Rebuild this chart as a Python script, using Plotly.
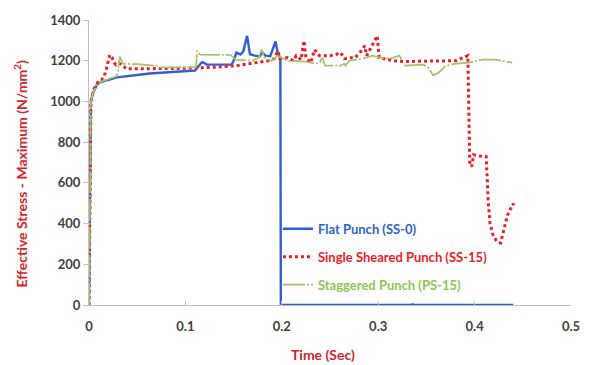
import plotly.graph_objects as go

# ---- data ----
t_flat = [0, 0.001, 0.002, 0.004, 0.006, 0.008, 0.011, 0.016, 0.022, 0.029, 0.04, 0.063, 0.09, 0.11,
          0.114, 0.117, 0.119, 0.122, 0.125, 0.148, 0.150, 0.153, 0.157, 0.160, 0.164, 0.167, 0.172,
          0.177, 0.180, 0.183, 0.188, 0.1935, 0.196, 0.1985, 0.199, 0.335, 0.3355, 0.336, 0.44]
s_flat = [0, 500, 1000, 1040, 1065, 1080, 1094, 1102, 1108, 1118, 1125, 1137, 1146, 1152,
          1175, 1192, 1190, 1181, 1181, 1181, 1200, 1240, 1230, 1245, 1322, 1232, 1225,
          1222, 1240, 1225, 1222, 1295, 1232, 1215, 0, 0, 6, 0, 0]

t_ss = [0, 0.001, 0.002, 0.005, 0.009, 0.013, 0.017, 0.0215, 0.024, 0.026, 0.028, 0.031, 0.034, 0.039,
        0.06, 0.09, 0.11, 0.13, 0.152, 0.165, 0.176, 0.186, 0.192, 0.196, 0.198, 0.206, 0.212, 0.215,
        0.22, 0.223, 0.225, 0.23, 0.234, 0.239, 0.25, 0.256, 0.261, 0.265, 0.271, 0.276, 0.281, 0.286,
        0.288, 0.295, 0.299, 0.301, 0.309, 0.316, 0.326, 0.381, 0.393, 0.395, 0.397, 0.399, 0.405,
        0.412, 0.414, 0.416, 0.419, 0.423, 0.427, 0.431, 0.434, 0.437, 0.44, 0.441]
s_ss = [0, 500, 1000, 1060, 1094, 1105, 1140, 1228, 1215, 1190, 1180, 1188, 1180, 1160,
        1160, 1162, 1165, 1168, 1175, 1185, 1195, 1200, 1210, 1248, 1210, 1215, 1200, 1225,
        1205, 1298, 1215, 1190, 1254, 1225, 1225, 1230, 1240, 1210, 1215, 1215, 1240, 1273,
        1225, 1288, 1322, 1215, 1205, 1200, 1196, 1200, 1225, 690, 680, 738, 732,
        729, 520, 400, 345, 312, 305, 390, 440, 470, 498, 480]

t_ps = [0, 0.001, 0.002, 0.004, 0.006, 0.008, 0.011, 0.016, 0.022, 0.029, 0.03, 0.032, 0.035, 0.05,
        0.07, 0.072, 0.111, 0.112, 0.115, 0.147, 0.152, 0.17, 0.176, 0.179, 0.182, 0.189, 0.196,
        0.206, 0.224, 0.234, 0.239, 0.242, 0.245, 0.261, 0.265, 0.266, 0.27, 0.278, 0.287, 0.294,
        0.302, 0.312, 0.322, 0.324, None, 0.327, 0.347, 0.352, 0.357, 0.363, 0.37, 0.381, 0.394,
        0.408, 0.422, 0.439]
s_ps = [0, 500, 1000, 1040, 1065, 1080, 1094, 1102, 1110, 1125, 1142, 1220, 1185, 1183,
        1175, 1167, 1168, 1249, 1230, 1228, 1205, 1200, 1215, 1254, 1215, 1200, 1225,
        1200, 1196, 1186, 1188, 1215, 1176, 1176, 1186, 1176, 1200, 1205, 1215, 1225,
        1215, 1210, 1225, 1205, None, 1176, 1181, 1167, 1128, 1142, 1176, 1186, 1191,
        1205, 1205, 1191]

series_names = ["Flat Punch (SS-0)", "Single Sheared Punch (SS-15)", "Staggered Punch (PS-15)"]
x_ticks = [0, 0.1, 0.2, 0.3, 0.4, 0.5]
x_tick_labels = ["0", "0.1", "0.2", "0.3", "0.4", "0.5"]
y_ticks = [0, 200, 400, 600, 800, 1000, 1200, 1400]
y_tick_labels = ["0", "200", "400", "600", "800", "1000", "1200", "1400"]

BLUE = "#2f5fd3"
RED = "#ee1c25"
GREEN = "#a3c06a"
GREEN_TXT = "#8cc751"
TITLE_RED = "#d8232a"
FONT = "Lato"

fig = go.Figure()
fig.add_trace(go.Scatter(
    x=t_flat, y=s_flat, mode="lines", legendgroup="a",
    name=f"<b><span style='color:{BLUE}'>{series_names[0]}</span></b>",
    line=dict(color=BLUE, width=2.4)))
fig.add_trace(go.Scatter(
    x=t_ss, y=s_ss, mode="lines", legendgroup="b",
    name=f"<b><span style='color:{RED}'>{series_names[1]}</span></b>",
    line=dict(color=RED, width=3, dash="dot")))
fig.add_trace(go.Scatter(
    x=t_ps, y=s_ps, mode="lines", legendgroup="c", connectgaps=False,
    name=f"<b><span style='color:{GREEN_TXT}'>{series_names[2]}</span></b>",
    line=dict(color=GREEN, width=1.7, dash="22px,2px,2px,2px")))

fig.update_layout(
    width=592, height=365,
    margin=dict(l=89, r=16, t=17, b=60),
    paper_bgcolor="white", plot_bgcolor="white",
    font=dict(family=FONT, size=12, color="#404040"),
    showlegend=True,
    legend=dict(x=0.392, y=0.32, xanchor="left", yanchor="top",
                bgcolor="rgba(0,0,0,0)", font=dict(family=FONT, size=13),
                tracegroupgap=8, traceorder="grouped"),
    xaxis=dict(range=[0, 0.5], tickvals=x_ticks, ticktext=x_tick_labels,
               showgrid=False, zeroline=False, showline=True, linecolor="#bfbfbf",
               linewidth=1, ticks="inside", ticklen=4, tickcolor="#bfbfbf",
               tickfont=dict(family=FONT, size=13, color="#404040", weight="bold"),
               ticklabelstandoff=9),
    yaxis=dict(range=[0, 1400], tickvals=y_ticks, ticktext=y_tick_labels,
               showgrid=False, zeroline=False, showline=True, linecolor="#bfbfbf",
               linewidth=1, ticks="outside", ticklen=5, tickcolor="#bfbfbf",
               tickfont=dict(family=FONT, size=13, color="#404040", weight="bold")),
    annotations=[
        dict(text="<b>Time (Sec)</b>", xref="paper", yref="paper",
             x=0.485, y=-0.175, xanchor="center", yanchor="middle", showarrow=False,
             font=dict(family=FONT, size=14, color=TITLE_RED)),
        dict(text="<b>Effective Stress - Maximum (N/mm<sup>2</sup>)</b>", xref="paper", yref="paper",
             x=-0.142, y=0.46, xanchor="center", yanchor="middle", showarrow=False, textangle=-90,
             font=dict(family=FONT, size=14, color=TITLE_RED)),
    ],
)

fig.write_html("out.html")
